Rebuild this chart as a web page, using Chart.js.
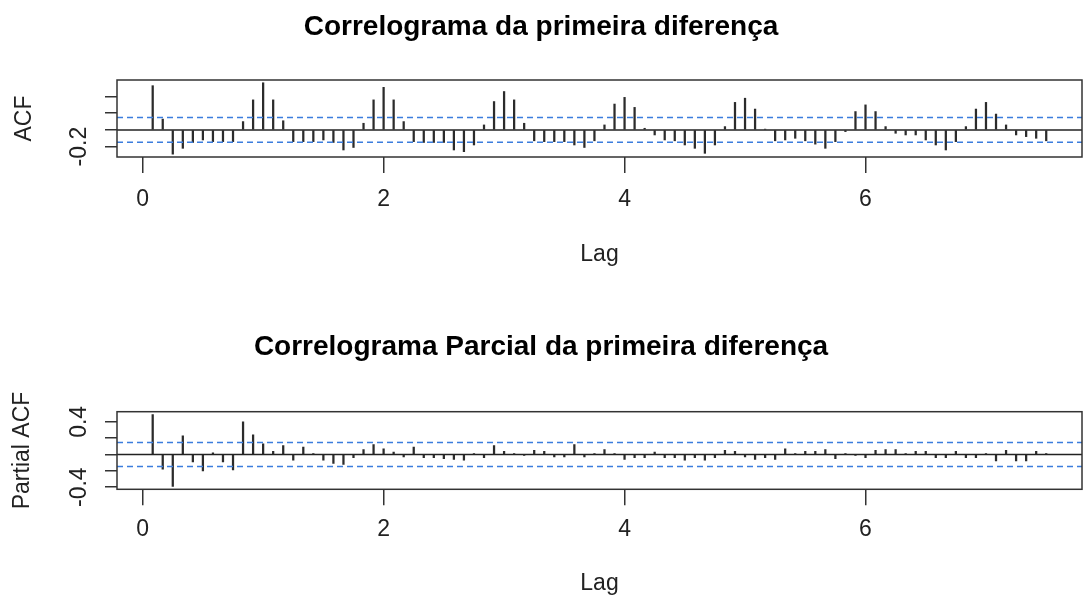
<!DOCTYPE html>
<html>
<head>
<meta charset="utf-8">
<script src="https://cdn.jsdelivr.net/npm/chart.js@4"></script>
<style>
  body { margin: 0; background: #fff; }
  .painel { position: absolute; left: 0; width: 1083px; }
  #p1 { top: 0; height: 300px; }
  #p2 { top: 300px; height: 299px; }
</style>
</head>
<body>
<div class="painel" id="p1"><canvas id="graficoAcf" width="1083" height="300"></canvas></div>
<div class="painel" id="p2"><canvas id="graficoPacf" width="1083" height="299"></canvas></div>
<script>
// Valores (lags 1..90, série mensal => lag = k/12)
const acf = [
  0.53, 0.13, -0.29, -0.22, -0.15, -0.12, -0.14, -0.14, -0.14, 0.10, 0.36, 0.565,
  0.36, 0.11, -0.14, -0.14, -0.14, -0.12, -0.15, -0.24, -0.21, 0.08, 0.36, 0.51,
  0.36, 0.10, -0.14, -0.15, -0.15, -0.15, -0.24, -0.26, -0.18, 0.06, 0.34, 0.46,
  0.36, 0.08, -0.13, -0.14, -0.14, -0.14, -0.18, -0.21, -0.13, 0.06, 0.31, 0.39,
  0.27, 0.02, -0.06, -0.12, -0.13, -0.18, -0.22, -0.28, -0.18, 0.04, 0.33, 0.38,
  0.25, 0.01, -0.13, -0.12, -0.10, -0.13, -0.17, -0.22, -0.14, -0.02, 0.22, 0.30,
  0.22, 0.04, -0.04, -0.06, -0.06, -0.12, -0.18, -0.24, -0.14, 0.04, 0.25, 0.33,
  0.19, 0.06, -0.06, -0.08, -0.10, -0.13
];
const pacf = [
  0.49, -0.18, -0.39, 0.23, -0.09, -0.20, 0.02, -0.09, -0.19, 0.40, 0.24, 0.13,
  0.04, 0.11, -0.07, 0.09, 0.01, -0.07, -0.11, -0.12, -0.04, 0.06, 0.12, 0.07,
  0.03, -0.03, 0.09, -0.04, -0.04, -0.05, -0.06, -0.07, 0.01, -0.04, 0.11, 0.04,
  0.01, -0.01, 0.05, 0.04, -0.03, -0.03, 0.12, -0.03, 0.01, 0.06, 0.01, -0.06,
  -0.04, -0.04, 0.03, -0.04, -0.04, -0.07, -0.04, -0.07, -0.04, 0.05, 0.04, -0.03,
  -0.06, -0.04, -0.06, 0.07, 0.01, 0.04, 0.04, 0.06, -0.05, 0.01, -0.01, -0.04,
  0.05, 0.06, 0.06, 0.01, 0.04, 0.04, -0.04, -0.04, 0.04, -0.04, -0.04, 0.01,
  -0.08, 0.05, -0.08, -0.08, 0.04, 0.01
];
const lags = acf.map((_, i) => (i + 1) / 12);
const limiteConfianca = 0.148;          // 1.96/sqrt(n)
const xLimites = [-0.213, 7.797];
const xPasso = 2;                        // rótulos 0, 2, 4, 6
const rotulosAcf = ['-0.2'];
const rotulosPacf = ['-0.4', '0.4'];

const fonte = 'Liberation Sans, Arial, sans-serif';

// Desenha a moldura em volta da área do gráfico (estilo R)
const moldura = {
  id: 'moldura',
  afterDatasetsDraw(chart) {
    const { ctx, chartArea: a } = chart;
    ctx.save();
    ctx.strokeStyle = '#333';
    ctx.lineWidth = 1.5;
    ctx.strokeRect(a.left, a.top, a.right - a.left, a.bottom - a.top);
    ctx.restore();
  }
};

function criarGrafico(id, cfg) {
  const pontos = cfg.valores.map((v, i) => ({ x: lags[i], y: v }));
  const linha = (y, cor, tracejado, ordem) => ({
    type: 'line',
    data: [{ x: xLimites[0], y: y }, { x: xLimites[1], y: y }],
    borderColor: cor,
    borderWidth: 1.5,
    borderDash: tracejado,
    pointRadius: 0,
    order: ordem
  });

  new Chart(document.getElementById(id), {
    type: 'bar',
    data: {
      datasets: [
        { data: pontos, backgroundColor: '#2b2b2b', barThickness: 1.6, order: 3 },
        linha(0, '#222', [], 2),
        linha(limiteConfianca, '#3b7ddd', [6, 4], 1),
        linha(-limiteConfianca, '#3b7ddd', [6, 4], 1)
      ]
    },
    options: {
      responsive: false,
      animation: false,
      layout: { padding: { right: 1 } },
      plugins: {
        legend: { display: false },
        tooltip: { enabled: false },
        title: {
          display: true,
          text: cfg.titulo,
          color: '#000',
          font: { family: fonte, size: 28, weight: 'bold' },
          padding: cfg.tituloPadding
        }
      },
      scales: {
        x: {
          type: 'linear',
          min: xLimites[0],
          max: xLimites[1],
          offset: false,
          afterFit: s => { s.height = cfg.alturaX; },
          border: { display: false },
          grid: { offset: false, drawOnChartArea: false, tickLength: 16, color: '#333', lineWidth: 1.5 },
          ticks: {
            stepSize: xPasso,
            includeBounds: false,
            color: '#222',
            padding: cfg.padX,
            font: { family: fonte, size: 23 }
          },
          title: {
            display: true,
            text: 'Lag',
            color: '#222',
            font: { family: fonte, size: 23, lineHeight: 1 },
            padding: { top: 0, bottom: cfg.padLag }
          }
        },
        y: {
          type: 'linear',
          min: cfg.yMin,
          max: cfg.yMax,
          afterFit: s => { s.width = 117; },
          border: { display: false },
          grid: { drawOnChartArea: false, tickLength: 12, color: '#333', lineWidth: 1.5 },
          ticks: {
            stepSize: 0.2,
            includeBounds: false,
            autoSkip: false,
            minRotation: 90,
            maxRotation: 90,
            crossAlign: 'center',
            padding: 6,
            color: '#222',
            font: { family: fonte, size: 23 },
            callback: v => {
              const txt = (Math.round(v * 10) / 10).toFixed(1);
              return cfg.rotulos.includes(txt) ? txt : '';
            }
          },
          title: {
            display: true,
            text: cfg.tituloY,
            color: '#222',
            font: { family: fonte, size: 23, lineHeight: 1 },
            padding: { top: cfg.padTituloY, bottom: 0 }
          }
        }
      }
    },
    plugins: [moldura]
  });
}

criarGrafico('graficoAcf', {
  valores: acf,
  titulo: 'Correlograma da primeira diferença',
  tituloPadding: { top: 10.7, bottom: 35.7 },
  tituloY: 'ACF',
  padTituloY: 13.5,
  rotulos: rotulosAcf,
  yMin: -0.324,
  yMax: 0.598,
  alturaX: 143,
  padX: 13.2,
  padLag: 33.5
});

criarGrafico('graficoPacf', {
  valores: pacf,
  titulo: 'Correlograma Parcial da primeira diferença',
  tituloPadding: { top: 30.7, bottom: 47.4 },
  tituloY: 'Partial ACF',
  padTituloY: 11.2,
  rotulos: rotulosPacf,
  yMin: -0.426,
  yMax: 0.524,
  alturaX: 109.7,
  padX: 10.9,
  padLag: 3.5
});
</script>
</body>
</html>
